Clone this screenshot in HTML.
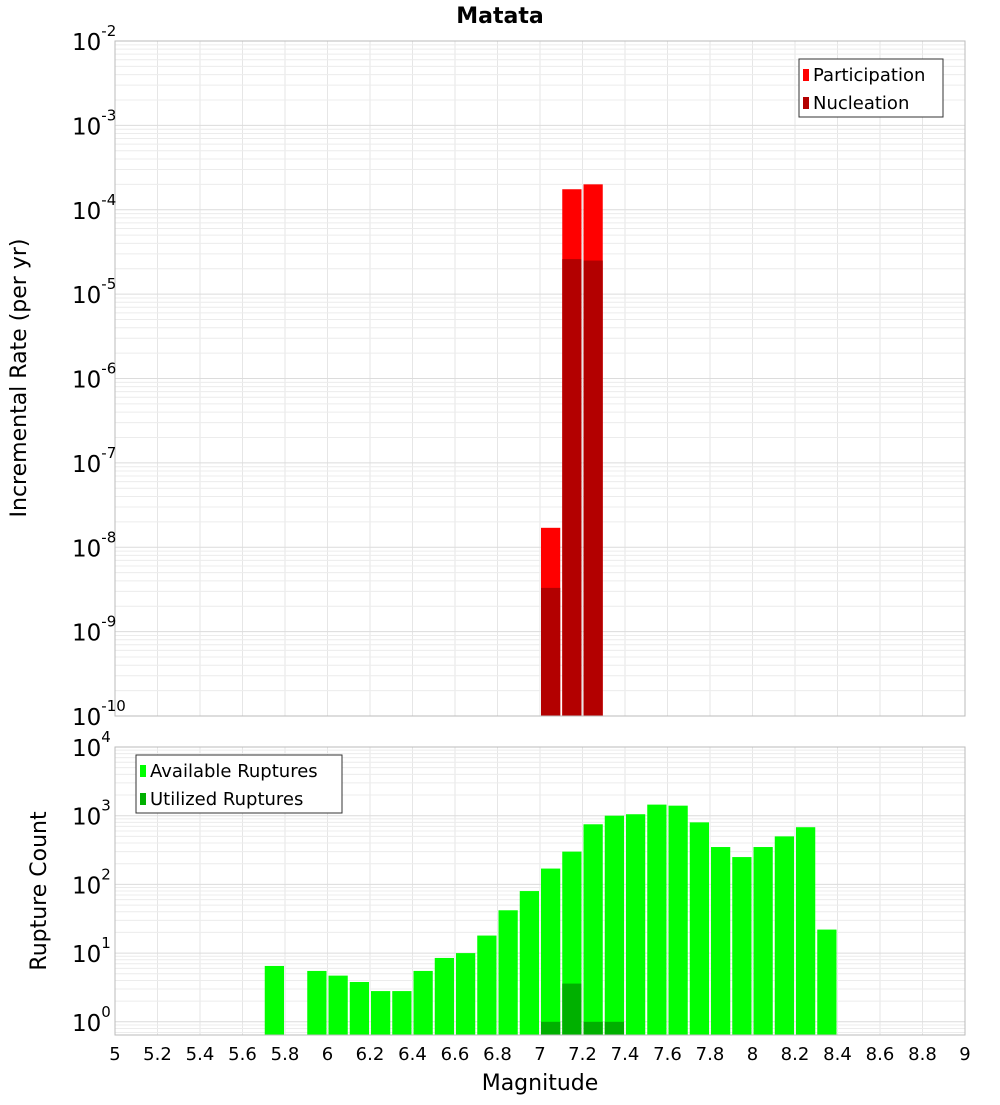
<!DOCTYPE html>
<html><head><meta charset="utf-8"><style>
body{margin:0;background:#fff;font-family:"Liberation Sans","DejaVu Sans",sans-serif;}
svg text{font-family:"DejaVu Sans","Liberation Sans",sans-serif;}
</style></head><body>
<svg id="c" width="1000" height="1100"></svg>
<script>
const topCenters=[7.05,7.15,7.25];
const participation=[1.7e-8,1.75e-4,2.0e-4];
const nucleation=[3.3e-9,2.6e-5,2.5e-5];
const botCenters=[5.75,5.95,6.05,6.15,6.25,6.35,6.45,6.55,6.65,6.75,6.85,6.95,7.05,7.15,7.25,7.35,7.45,7.55,7.65,7.75,7.85,7.95,8.05,8.15,8.25,8.35];
const available=[6.5,5.5,4.7,3.8,2.8,2.8,5.5,8.5,10,18,42,80,170,300,750,1000,1050,1450,1400,800,350,250,350,500,680,22];
const utilCenters=[7.05,7.15,7.25,7.35];
const utilized=[1,3.6,1,1];
const xTicks=["5","5.2","5.4","5.6","5.8","6","6.2","6.4","6.6","6.8","7","7.2","7.4","7.6","7.8","8","8.2","8.4","8.6","8.8","9"];
const topExps=[-10,-9,-8,-7,-6,-5,-4,-3,-2];
const botExps=[0,1,2,3,4];

const svg=document.getElementById('c');const NS='http://www.w3.org/2000/svg';
function mk(t,a,p){const e=document.createElementNS(NS,t);for(const k in a)e.setAttribute(k,a[k]);(p||svg).appendChild(e);return e;}
const X0=115,X1=965;
const x=v=>X0+(v-5)/4*(X1-X0);
const T0=41,T1=716;
const yT=v=>T1-(Math.log10(v)+10)/8*(T1-T0);
const B0=747,BD=68.7,B1=1035;
const yB=v=>B0+(4-Math.log10(v))*BD;

// frames & grids
function grid(y0,y1,yf,emin,emax,name){
  const g=mk('g',{});
  
  for(let i=0;i<=20;i++){mk('line',{x1:x(5+i*0.2),x2:x(5+i*0.2),y1:y0,y2:y1,stroke:'#e6e6e6','stroke-width':1},g);}
  for(let e=emin;e<emax;e++)for(let m=1;m<10;m++){const yy=yf(m*Math.pow(10,e));if(yy<y0||yy>y1)continue;
    mk('line',{x1:X0,x2:X1,y1:yy,y2:yy,stroke:m==1?'#dcdcdc':'#ececec','stroke-width':1},g);}
}
grid(T0,T1,yT,-10,-2,'top');
grid(B0,B1,yB,-1,4,'bottom');

function bar(c,v,base,yf,fill,name){const w=x(0.1+5)-x(5);
  const r=mk('rect',{x:x(c)-w/2+1,y:yf(v),width:w-2,height:base-yf(v),fill:fill});
  }
topCenters.forEach((c,i)=>bar(c,participation[i],T1,yT,'#ff0000','participation-bar'));
topCenters.forEach((c,i)=>bar(c,nucleation[i],T1,yT,'#b30000','nucleation-bar'));
botCenters.forEach((c,i)=>bar(c,available[i],B1,yB,'#00ff00','available-bar'));
utilCenters.forEach((c,i)=>bar(c,utilized[i],B1,yB,'#00b000','utilized-bar'));

mk('rect',{x:X0,y:T0,width:X1-X0,height:T1-T0,fill:'none',stroke:'#bbb'});
mk('rect',{x:X0,y:B0,width:X1-X0,height:B1-B0,fill:'none',stroke:'#bbb'});

function txt(s,a,name){const t=mk('text',a);t.textContent=s;return t;}
function pow(e,yy,name){const t=mk('text',{x:104,y:yy+9,'text-anchor':'end','font-size':23,fill:'#000'});
  
  const a=mk('tspan',{},t);a.textContent='10';
  const b=mk('tspan',{dy:-13,'font-size':15},t);b.textContent=String(e);
  b.setAttribute('x',null);}
topExps.forEach(e=>{const t=txt('',{x:72,y:yT(Math.pow(10,e))+9,'font-size':23},'top-y-tick');
  const a=mk('tspan',{},t);a.textContent='10';const b=mk('tspan',{dy:-14,'font-size':15},t);b.textContent=String(e);});
botExps.forEach(e=>{const t=txt('',{x:72,y:yB(Math.pow(10,e))+9,'font-size':23},'bottom-y-tick');
  const a=mk('tspan',{},t);a.textContent='10';const b=mk('tspan',{dy:-14,'font-size':15},t);b.textContent=String(e);});
xTicks.forEach(s=>txt(s,{x:x(parseFloat(s)),y:1060,'text-anchor':'middle','font-size':18},'x-tick'));

txt('Matata',{x:500,y:23,'text-anchor':'middle','font-size':22,'font-weight':'bold'},'chart-title');
txt('Magnitude',{x:540,y:1090,'text-anchor':'middle','font-size':22},'x-axis-title');
txt('Incremental Rate (per yr)',{x:0,y:0,'text-anchor':'middle','font-size':22,transform:'translate(26,378) rotate(-90)'},'top-y-axis-title');
txt('Rupture Count',{x:0,y:0,'text-anchor':'middle','font-size':22,transform:'translate(46,891) rotate(-90)'},'bottom-y-axis-title');

function legend(x0,y0,w,items,name){const g=mk('g',{});
  mk('rect',{x:x0,y:y0,width:w,height:58,fill:'#fff',stroke:'#333'},g);
  items.forEach((it,i)=>{mk('rect',{x:x0+4,y:y0+10+i*28,width:6,height:12,fill:it[1]},g);
    const t=mk('text',{x:x0+14,y:y0+22+i*28,'font-size':18},g);t.textContent=it[0];});}
legend(799,59,144,[['Participation','#ff0000'],['Nucleation','#b30000']],'top-legend');
legend(136,755,206,[['Available Ruptures','#00ff00'],['Utilized Ruptures','#00b000']],'bottom-legend');
</script>
</body></html>
